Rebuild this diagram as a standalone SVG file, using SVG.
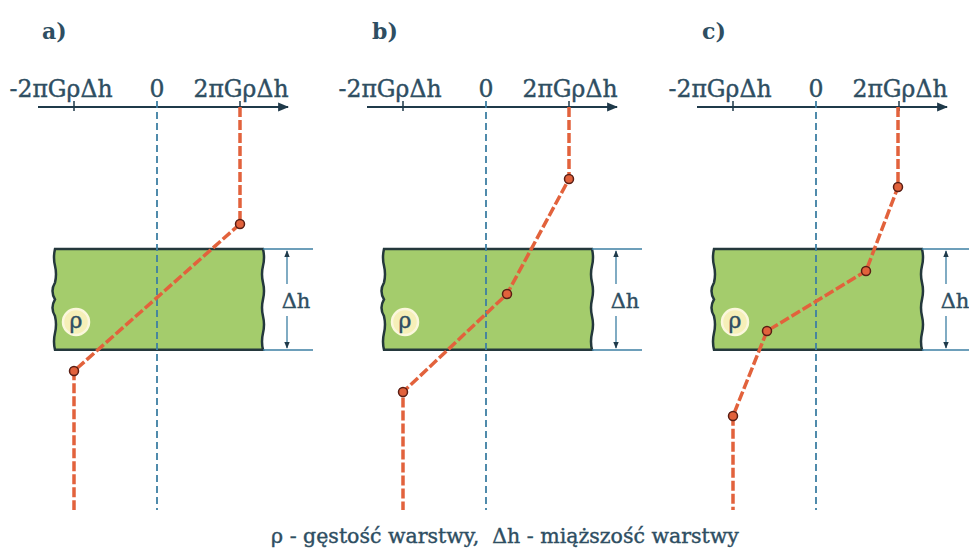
<svg xmlns="http://www.w3.org/2000/svg" width="969" height="556" viewBox="0 0 969 556">
<style>
text{font-family:"DejaVu Serif","Liberation Serif",serif;fill:#2e4e62;stroke:#2e4e62;stroke-width:0.4}
.lbl{font-size:23.5px;text-anchor:middle}
.pl{font-size:22px;font-weight:bold;stroke-width:0}
.axis{stroke:#1f3a4a;stroke-width:2.2;fill:none}
.tick{stroke:#1f3a4a;stroke-width:1.5}
.zero{stroke:#3d7fa3;stroke-width:1.8;stroke-dasharray:7 4;fill:none}
.red{stroke:#e2623c;stroke-width:3.5;stroke-dasharray:10 3;fill:none}
.pt{fill:#e2623c;stroke:#5a1e14;stroke-width:1.5}
.layer{fill:#a4cc6c;stroke:#24383c;stroke-width:2.5}
.ext{stroke:#3d7fa3;stroke-width:1.3}
.dim{stroke:#3d7fa3;stroke-width:1.3;fill:none}
.rho{fill:#f6efb8;stroke:#fbf7dc;stroke-width:2.5}
</style>
<defs>
<marker id="ah" viewBox="0 0 10 10" refX="9" refY="5" markerWidth="11" markerHeight="11" markerUnits="userSpaceOnUse" orient="auto"><path d="M0,1 L10,5 L0,9 z" fill="#1f3a4a"/></marker>
<marker id="da" viewBox="0 0 10 10" refX="9" refY="5" markerWidth="7" markerHeight="7" markerUnits="userSpaceOnUse" orient="auto"><path d="M0,1 L10,5 L0,9 z" fill="#1f3a4a"/></marker>
<path id="lay" class="layer" d="M0,0 H208 q2,8.4 0,16.8 q-2,8.4 0,16.8 q2,8.4 0,16.8 q-2,8.4 0,16.8 q2,8.4 0,16.8 q-2,8.4 0,16.8 H0 q-2,-8.4 0,-16.8 q2,-8.4 0,-16.8 q-5,-8.4 0,-16.8 q-5,-8.4 0,-16.8 q2,-8.4 0,-16.8 q-2,-8.4 0,-16.8 z"/>
<g id="frame">
<line class="axis" x1="38" y1="107" x2="288" y2="107" marker-end="url(#ah)"/>
<line class="tick" x1="74" y1="101" x2="74" y2="111"/>
<line class="tick" x1="240" y1="101" x2="240" y2="111"/>
<text class="lbl" x="61" y="97">-2πGρΔh</text>
<text class="lbl" x="157" y="97">0</text>
<text class="lbl" x="241" y="97">2πGρΔh</text>
<use href="#lay" x="55" y="249"/>
<line class="zero" x1="157" y1="101" x2="157" y2="510"/>
<line class="ext" x1="263" y1="249" x2="313" y2="249"/>
<line class="ext" x1="263" y1="350" x2="313" y2="350"/>
<line class="dim" x1="287" y1="284" x2="287" y2="251" marker-end="url(#da)"/>
<line class="dim" x1="287" y1="316" x2="287" y2="348" marker-end="url(#da)"/>
<text x="296" y="308" style="font-size:21px;text-anchor:middle">Δh</text>
<circle class="rho" cx="76" cy="322" r="13"/>
<text x="76" y="328" style="font-size:22px;text-anchor:middle">ρ</text>
</g>
</defs>
<g id="panel-a">
<use href="#frame"/>
<text class="pl" x="42" y="39">a)</text>
</g>
<g id="panel-b" transform="translate(329,0)">
<use href="#frame"/>
<text class="pl" x="43" y="39">b)</text>
</g>
<g id="panel-c" transform="translate(659,0)">
<use href="#frame"/>
<text class="pl" x="43" y="39">c)</text>
</g>
<g id="connectors">
<polyline class="red" points="240,107 240,224 74,371 74,510"/>
<polyline class="red" points="569,107 569,179 507,294 403,392 403,510"/>
<polyline class="red" points="898,107 898,187 866,271 767,331 733,416 733,510"/>
</g>
<g id="points">
<circle class="pt" cx="240" cy="224" r="4.5"/>
<circle class="pt" cx="74" cy="371" r="4.5"/>
<circle class="pt" cx="569" cy="179" r="4.5"/>
<circle class="pt" cx="507" cy="294" r="4.5"/>
<circle class="pt" cx="403" cy="392" r="4.5"/>
<circle class="pt" cx="898" cy="187" r="4.5"/>
<circle class="pt" cx="866" cy="271" r="4.5"/>
<circle class="pt" cx="767" cy="331" r="4.5"/>
<circle class="pt" cx="733" cy="416" r="4.5"/>
</g>
<text id="caption" x="505" y="543" style="font-size:20.5px;text-anchor:middle;white-space:pre">ρ - gęstość warstwy,  Δh - miąższość warstwy</text>
</svg>
